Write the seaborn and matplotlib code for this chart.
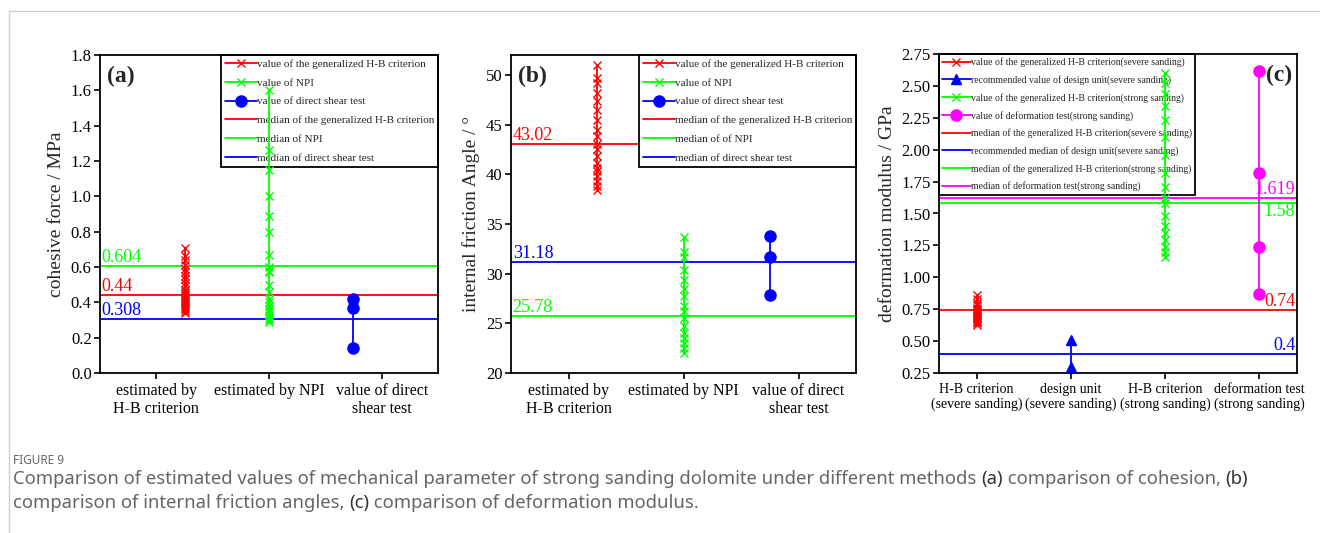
import matplotlib
matplotlib.use("Agg")
import numpy as np
import pandas as pd
import matplotlib.pyplot as plt
import seaborn as sns
from matplotlib.lines import Line2D

# ---------------- data ----------------
# (a) cohesive force / MPa
coh_hb = [0.71, 0.66, 0.64, 0.61, 0.59, 0.57, 0.55, 0.53, 0.51, 0.49, 0.47, 0.46,
          0.45, 0.44, 0.43, 0.42, 0.41, 0.40, 0.39, 0.38, 0.37, 0.36, 0.35, 0.34]
coh_npi = [1.60, 1.26, 1.15, 1.00, 0.89, 0.80, 0.67, 0.60, 0.58, 0.57, 0.50, 0.46,
           0.42, 0.40, 0.38, 0.36, 0.35, 0.33, 0.31, 0.30, 0.29]
coh_shear = [0.42, 0.37, 0.14]
coh_med_hb, coh_med_npi, coh_med_shear = 0.44, 0.604, 0.308

# (b) internal friction angle / degree
phi_hb = [51.0, 49.7, 49.2, 48.2, 47.4, 46.5, 45.5, 44.5, 43.8, 43.0, 42.5, 41.8,
          41.1, 40.6, 40.3, 39.8, 39.3, 38.8, 38.4]
phi_npi = [33.7, 32.2, 31.7, 30.4, 29.4, 28.5, 27.7, 26.7, 26.2, 25.5, 24.7, 24.0,
           23.5, 23.0, 22.5, 22.0]
phi_shear = [33.8, 31.7, 27.8]
phi_med_hb, phi_med_npi, phi_med_shear = 43.02, 25.78, 31.18

# (c) deformation modulus / GPa
mod_hb_severe = [0.86, 0.83, 0.80, 0.78, 0.76, 0.75, 0.74, 0.73, 0.72, 0.71, 0.70,
                 0.69, 0.68, 0.67, 0.66, 0.65, 0.64, 0.63]
mod_design = [0.51, 0.30]
mod_hb_strong = [2.60, 2.52, 2.44, 2.34, 2.23, 2.10, 1.96, 1.82, 1.71, 1.62, 1.58,
                 1.48, 1.40, 1.35, 1.29, 1.24, 1.20, 1.16]
mod_test = [2.62, 1.82, 1.24, 0.87]
mod_med_hb_severe, mod_med_design, mod_med_hb_strong, mod_med_test = 0.74, 0.4, 1.58, 1.619

cats_ab = ["estimated by\nH-B criterion", "estimated by NPI", "value of direct\nshear test"]
cats_c = ["H-B criterion\n(severe sanding)", "design unit\n(severe sanding)",
          "H-B criterion\n(strong sanding)", "deformation test\n(strong sanding)"]

RED, GREEN, BLUE, MAG = "#ff0000", "#00ff00", "#0000ff", "#ff00ff"

sns.set_theme(style="ticks")
plt.rcParams["font.family"] = ["Liberation Serif", "DejaVu Serif"]
plt.rcParams["xtick.direction"] = "out"
plt.rcParams["ytick.direction"] = "out"

fig = plt.figure(figsize=(13.2, 5.33), dpi=100)
H = 533.0
W = 1320.0


def make_ax(left, right, top, bottom):
    return fig.add_axes([left / W, 1 - bottom / H, (right - left) / W, (bottom - top) / H])


def series(ax, xpos, values, color, marker, ms, label):
    df = pd.DataFrame({"x": [xpos] * len(values), "y": values})
    sns.lineplot(data=df, x="x", y="y", estimator=None, sort=False, color=color,
                 marker=marker, markersize=ms, markeredgecolor=color,
                 markerfacecolor=color, markeredgewidth=1.0, lw=1.3,
                 label=label, ax=ax, zorder=3, legend=False)


def median(ax, y, color, label):
    ax.axhline(y, color=color, lw=1.3, label=label, zorder=1)


def style_ax(ax, ylabel, xsize):
    for sp in ax.spines.values():
        sp.set_visible(True)
        sp.set_linewidth(1.3)
        sp.set_color("black")
    ax.tick_params(axis="both", length=4, width=1.2, labelsize=12, colors="black", pad=2)
    ax.tick_params(axis="x", labelsize=xsize, pad=3)
    ax.set_ylabel(ylabel, fontsize=14, labelpad=4)
    ax.set_xlabel("")
    ax.grid(False)


def legend(ax, loc, size, spacing):
    leg = ax.legend(loc=loc, borderaxespad=0, fontsize=size, frameon=True, fancybox=False,
                    edgecolor="black", framealpha=1, handlelength=2.9, handletextpad=0.0,
                    labelspacing=spacing, borderpad=0.35)
    leg.get_frame().set_linewidth(1.3)
    leg.set_zorder(2)
    return leg


# ---------------- panel (a) ----------------
ax = make_ax(100, 438, 55, 373)
series(ax, 1.25, coh_hb, RED, "x", 6, "value of the generalized H-B criterion")
series(ax, 2.0, coh_npi, GREEN, "x", 6, "value of NPI")
series(ax, 2.75, coh_shear, BLUE, "o", 8, "value of direct shear test")
median(ax, coh_med_hb, RED, "median of the generalized H-B criterion")
median(ax, coh_med_npi, GREEN, "median of NPI")
median(ax, coh_med_shear, BLUE, "median of direct shear test")
ax.set_xlim(0.5, 3.5)
ax.set_ylim(0, 1.8)
ax.set_xticks([1, 2, 3], cats_ab)
ax.set_yticks(np.arange(0, 1.81, 0.2), [f"{v:.1f}" for v in np.arange(0, 1.81, 0.2)])
style_ax(ax, "cohesive force / MPa", 11.5)
legend(ax, "upper right", 8, 0.82)
tr = ax.get_yaxis_transform()
for y, c, t in [(coh_med_npi, GREEN, "0.604"), (coh_med_hb, RED, "0.44"), (coh_med_shear, BLUE, "0.308")]:
    ax.text(0.005, y, t, color=c, fontsize=13, ha="left", va="bottom", transform=tr)
ax.text(0.02, 0.965, "(a)", transform=ax.transAxes, fontsize=17, fontweight="bold",
        ha="left", va="top")

# ---------------- panel (b) ----------------
ax = make_ax(511, 856, 55, 373)
series(ax, 1.25, phi_hb, RED, "x", 6, "value of the generalized H-B criterion")
series(ax, 2.0, phi_npi, GREEN, "x", 6, "value of NPI")
series(ax, 2.75, phi_shear, BLUE, "o", 8, "value of direct shear test")
median(ax, phi_med_hb, RED, "median of the generalized H-B criterion")
median(ax, phi_med_npi, GREEN, "median of of NPI")
median(ax, phi_med_shear, BLUE, "median of direct shear test")
ax.set_xlim(0.5, 3.5)
ax.set_ylim(20, 52)
ax.set_xticks([1, 2, 3], cats_ab)
ax.set_yticks([20, 25, 30, 35, 40, 45, 50])
style_ax(ax, "internal friction Angle / °", 11.5)
legend(ax, "upper right", 8, 0.82)
tr = ax.get_yaxis_transform()
for y, c, t in [(phi_med_hb, RED, "43.02"), (phi_med_shear, BLUE, "31.18"), (phi_med_npi, GREEN, "25.78")]:
    ax.text(0.005, y, t, color=c, fontsize=13, ha="left", va="bottom", transform=tr)
ax.text(0.02, 0.965, "(b)", transform=ax.transAxes, fontsize=17, fontweight="bold",
        ha="left", va="top")

# ---------------- panel (c) ----------------
ax = make_ax(939, 1297, 54, 373)
series(ax, 1, mod_hb_severe, RED, "x", 6, "value of the generalized H-B criterion(severe sanding)")
series(ax, 2, mod_design, BLUE, "^", 7, "recommended value of design unit(severe sanding)")
series(ax, 3, mod_hb_strong, GREEN, "x", 6, "value of the generalized H-B criterion(strong sanding)")
series(ax, 4, mod_test, MAG, "o", 8, "value of deformation test(strong sanding)")
median(ax, mod_med_hb_severe, RED, "median of the generalized H-B criterion(severe sanding)")
median(ax, mod_med_design, BLUE, "recommended median of design unit(severe sanding)")
median(ax, mod_med_hb_strong, GREEN, "median of the generalized H-B criterion(strong sanding)")
median(ax, mod_med_test, MAG, "median of deformation test(strong sanding)")
ax.set_xlim(0.6, 4.4)
ax.set_ylim(0.25, 2.75)
ax.set_xticks([1, 2, 3, 4], cats_c)
yt = np.arange(0.25, 2.76, 0.25)
ax.set_yticks(yt, [f"{v:.2f}" for v in yt])
style_ax(ax, "deformation modulus / GPa", 10)
legend(ax, "upper left", 7.0, 0.8)
tr = ax.get_yaxis_transform()
ax.text(0.995, mod_med_test, "1.619", color=MAG, fontsize=13, ha="right", va="bottom", transform=tr)
ax.text(0.995, mod_med_hb_strong, "1.58", color=GREEN, fontsize=13, ha="right", va="top", transform=tr)
ax.text(0.995, mod_med_hb_severe, "0.74", color=RED, fontsize=13, ha="right", va="bottom", transform=tr)
ax.text(0.995, mod_med_design, "0.4", color=BLUE, fontsize=13, ha="right", va="bottom", transform=tr)
ax.text(0.985, 0.965, "(c)", transform=ax.transAxes, fontsize=17, fontweight="bold",
        ha="right", va="top")

# ---------------- page frame and caption ----------------
fig.add_artist(Line2D([9 / W, 1], [1 - 11 / H, 1 - 11 / H], transform=fig.transFigure,
                      color="#cfcfcf", lw=1))
fig.add_artist(Line2D([9 / W, 9 / W], [0, 1 - 11 / H], transform=fig.transFigure,
                      color="#cfcfcf", lw=1))

cap_font = ["Noto Sans", "DejaVu Sans"]
fig.text(13 / W, 1 - 464 / H, "FIGURE 9", fontsize=8.5, color="#666666", family=cap_font,
         va="baseline")

renderer = fig.canvas.get_renderer()


def caption_line(y_px, parts):
    x = 13 / W
    for txt, bold in parts:
        t = fig.text(x, 1 - y_px / H, txt, fontsize=13.3, family=cap_font, va="baseline",
                     color="#333333" if bold else "#666666",
                     fontweight="bold" if bold else "normal")
        x = t.get_window_extent(renderer).x1 / W


caption_line(484, [("Comparison of estimated values of mechanical parameter of strong sanding dolomite "
                    "under different methods ", False), ("(a)", True),
                   (" comparison of cohesion, ", False), ("(b)", True)])
caption_line(508, [("comparison of internal friction angles, ", False), ("(c)", True),
                   (" comparison of deformation modulus.", False)])

fig.savefig("out.png", dpi=100)
